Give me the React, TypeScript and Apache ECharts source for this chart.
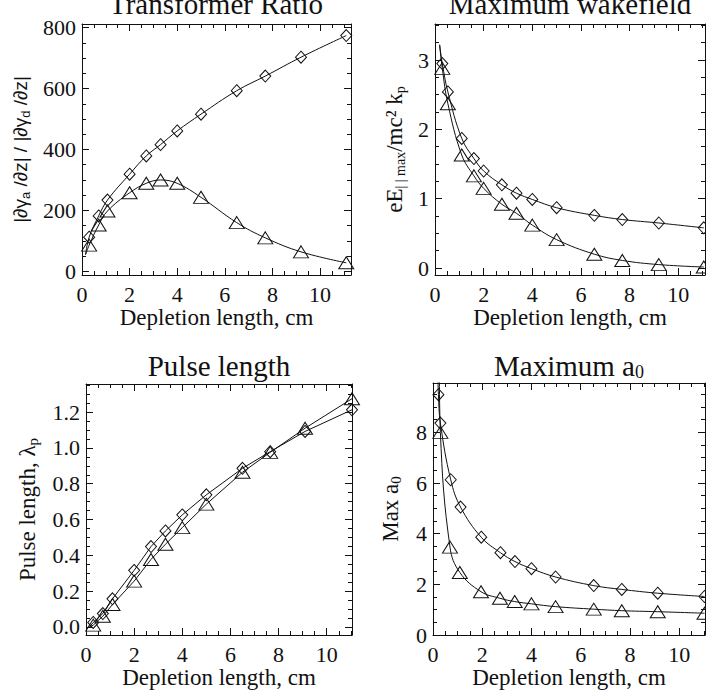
import { useEffect, useRef } from "react";
import * as echarts from "echarts";

// ---------- Panel 1: Transformer Ratio ----------
const trX = [0.3, 0.7, 1.07, 2.0, 2.7, 3.3, 4.0, 5.0, 6.5, 7.7, 9.2, 11.1];
const trDiamond = [112, 182, 234, 319, 379, 416, 461, 516, 593, 641, 703, 774];
const trTriangle = [86, 152, 198, 258, 289, 300, 289, 243, 160, 110, 64, 28];
const trStart = [0.15, 55];
const trYTicks = [0, 200, 400, 600, 800];

// ---------- Panel 2: Maximum wakefield ----------
const wfX = [0.3, 0.53, 1.1, 1.6, 2.0, 2.75, 3.35, 4.0, 5.0, 6.55, 7.7, 9.2, 11.05];
const wfDiamond = [2.95, 2.54, 1.87, 1.58, 1.4, 1.2, 1.08, 0.99, 0.87, 0.76, 0.7, 0.65, 0.58];
const wfTriangle = [2.88, 2.37, 1.63, 1.33, 1.15, 0.92, 0.79, 0.62, 0.41, 0.2, 0.11, 0.05, 0.015];
const wfStart = [0.19, 3.22];
const wfYTicks = [0, 1, 2, 3];

// ---------- Panel 3: Pulse length ----------
const plX = [0.3, 0.7, 1.1, 2.0, 2.7, 3.3, 4.0, 5.0, 6.5, 7.65, 9.1, 11.05];
const plDiamond = [0.025, 0.075, 0.157, 0.316, 0.449, 0.536, 0.626, 0.738, 0.886, 0.979, 1.092, 1.213];
const plTriangle = [0.01, 0.06, 0.125, 0.256, 0.377, 0.462, 0.555, 0.686, 0.864, 0.975, 1.11, 1.275];
const plStart = [0.15, 0.0];
const plYTicks = [0, 0.2, 0.4, 0.6, 0.8, 1.0, 1.2];

// ---------- Panel 4: Maximum a0 ----------
const a0XDiamond = [0.22, 0.3, 0.72, 1.12, 1.96, 2.74, 3.33, 4.0, 4.98, 6.53, 7.67, 9.13, 11.03];
const a0Diamond = [9.49, 8.37, 6.13, 5.05, 3.86, 3.25, 2.9, 2.62, 2.29, 1.95, 1.8, 1.65, 1.52];
const a0XTriangle = [0.3, 0.69, 1.09, 1.95, 2.72, 3.32, 4.0, 4.98, 6.53, 7.67, 9.13, 11.03];
const a0Triangle = [8.0, 3.47, 2.47, 1.71, 1.45, 1.32, 1.23, 1.12, 1.02, 0.96, 0.92, 0.86];
const a0StartDiamond = [0.2, 10.3];
const a0StartTriangle = [0.26, 10.3];
const a0YTicks = [0, 2, 4, 6, 8];

const xTicks = [0, 2, 4, 6, 8, 10];

const SERIF = "'Liberation Serif', 'Times New Roman', serif";
const SANS = "'Liberation Sans', Arial, sans-serif";
const INK = "#111";

function steps(lo: number, hi: number, step: number): number[] {
  const out: number[] = [];
  const start = Math.ceil(lo / step - 1e-9) * step;
  for (let v = start; v <= hi + 1e-9; v += step) out.push(+v.toFixed(6));
  return out;
}
function minorsOf(lo: number, hi: number, step: number, majors: number[]): number[] {
  return steps(lo, hi, step).filter((v) => !majors.some((m) => Math.abs(m - v) < 1e-6));
}

function pairs(xs: number[], ys: number[], start: number[]) {
  return [{ value: start, symbol: "none" }, ...xs.map((x, i) => [x, ys[i]])];
}

function xAxes(grid: number, max: number) {
  const minor = minorsOf(0, max, 0.5, xTicks);
  const base = {
    type: "value",
    gridIndex: grid,
    min: 0,
    max,
    splitLine: { show: false },
    axisLine: { show: true, onZero: false, lineStyle: { color: INK, width: 1 } },
  };
  return [
    {
      ...base,
      position: "bottom",
      axisTick: { show: true, inside: true, length: 7, customValues: xTicks, lineStyle: { color: INK } },
      axisLabel: { customValues: xTicks, fontFamily: SERIF, fontSize: 22, color: INK, margin: 8 },
      name: "Depletion length, cm",
      nameLocation: "middle",
      nameGap: 30,
      nameTextStyle: { fontFamily: SERIF, fontSize: 23, color: INK },
    },
    {
      ...base,
      position: "bottom",
      axisLine: { show: false, onZero: false },
      axisTick: { show: true, inside: true, length: 4, customValues: minor, lineStyle: { color: INK } },
      axisLabel: { show: false },
    },
    {
      ...base,
      position: "top",
      axisTick: { show: true, inside: true, length: 7, customValues: xTicks, lineStyle: { color: INK } },
      axisLabel: { show: false },
    },
    {
      ...base,
      position: "top",
      axisLine: { show: false, onZero: false },
      axisTick: { show: true, inside: true, length: 4, customValues: minor, lineStyle: { color: INK } },
      axisLabel: { show: false },
    },
  ];
}

function yAxes(
  grid: number,
  min: number,
  max: number,
  majors: number[],
  minorStep: number,
  fmt: (v: number) => string,
  name: string,
  nameGap: number,
  nameStyle: any
) {
  const minor = minorsOf(min, max, minorStep, majors);
  const base = {
    type: "value",
    gridIndex: grid,
    min,
    max,
    splitLine: { show: false },
    axisLine: { show: true, onZero: false, lineStyle: { color: INK, width: 1 } },
  };
  return [
    {
      ...base,
      position: "left",
      axisTick: { show: true, inside: true, length: 7, customValues: majors, lineStyle: { color: INK } },
      axisLabel: { customValues: majors, fontFamily: SERIF, fontSize: 22, color: INK, margin: 6, formatter: fmt },
      name,
      nameLocation: "middle",
      nameRotate: 90,
      nameGap,
      nameTextStyle: nameStyle,
    },
    {
      ...base,
      position: "left",
      axisLine: { show: false, onZero: false },
      axisTick: { show: true, inside: true, length: 4, customValues: minor, lineStyle: { color: INK } },
      axisLabel: { show: false },
    },
    {
      ...base,
      position: "right",
      axisTick: { show: true, inside: true, length: 7, customValues: majors, lineStyle: { color: INK } },
      axisLabel: { show: false },
    },
    {
      ...base,
      position: "right",
      axisLine: { show: false, onZero: false },
      axisTick: { show: true, inside: true, length: 4, customValues: minor, lineStyle: { color: INK } },
      axisLabel: { show: false },
    },
  ];
}

function line(panel: number, data: any[], symbol: string, size: number[], smooth: number | boolean) {
  return {
    type: "line",
    xAxisIndex: panel * 4,
    yAxisIndex: panel * 4,
    data,
    symbol,
    symbolSize: size,
    showSymbol: true,
    smooth,
    clip: true,
    silent: true,
    lineStyle: { color: INK, width: 1 },
    itemStyle: { color: "rgba(0,0,0,0)", borderColor: INK, borderWidth: 1 },
    emphasis: { disabled: true },
  };
}

const subRich = (size: number, family: string) => ({
  s: { fontSize: size, fontFamily: family, color: INK, verticalAlign: "bottom", lineHeight: 10 },
});

export default function App() {
  const ref = useRef<HTMLDivElement>(null);
  useEffect(() => {
    if (!ref.current) return;
    const chart = echarts.init(ref.current, undefined, { renderer: "svg" });
    const option: any = {
      animation: false,
      backgroundColor: "#fff",
      grid: [
        { left: 82, top: 24, width: 269, height: 251 },
        { left: 435, top: 24, width: 270, height: 251 },
        { left: 86, top: 384, width: 266, height: 251 },
        { left: 433, top: 383, width: 272, height: 252 },
      ],
      xAxis: [...xAxes(0, 11.3), ...xAxes(1, 11.1), ...xAxes(2, 11.05), ...xAxes(3, 11.05)],
      yAxis: [
        ...yAxes(0, -12, 812, trYTicks, 50, (v) => String(Math.round(v)),
          "|∂γ{s|a} /∂z| / |∂γ{s|d} /∂z|", 50,
          { fontFamily: SANS, fontSize: 19, color: INK, lineHeight: 24, rich: subRich(13, SANS) }),
        ...yAxes(1, -0.1, 3.52, wfYTicks, 0.25, (v) => String(Math.round(v)),
          "eE{s|| | max}/mc² k{s|p}", 28,
          { fontFamily: SERIF, fontSize: 23, color: INK, lineHeight: 26, rich: subRich(14, SERIF) }),
        ...yAxes(2, -0.045, 1.357, plYTicks, 0.05, (v) => v.toFixed(1),
          "Pulse length, λ{s|p}", 46,
          { fontFamily: SERIF, fontSize: 23, color: INK, lineHeight: 26, rich: subRich(15, SERIF) }),
        ...yAxes(3, 0, 9.95, a0YTicks, 0.5, (v) => String(Math.round(v)),
          "Max a{s|0}", 30,
          { fontFamily: SERIF, fontSize: 23, color: INK, lineHeight: 26, rich: subRich(15, SERIF) }),
      ],
      series: [
        line(0, pairs(trX, trDiamond, trStart), "diamond", [11, 12], 0.4),
        line(0, pairs(trX, trTriangle, trStart), "triangle", [15, 12], 0.4),
        line(1, pairs(wfX, wfDiamond, wfStart), "diamond", [11, 12], 0.4),
        line(1, pairs(wfX, wfTriangle, wfStart), "triangle", [15, 12], 0.4),
        line(2, pairs(plX, plDiamond, plStart), "diamond", [11, 12], false),
        line(2, pairs(plX, plTriangle, plStart), "triangle", [15, 12], false),
        line(3, pairs(a0XDiamond, a0Diamond, a0StartDiamond), "diamond", [11, 12], 0.4),
        line(3, pairs(a0XTriangle, a0Triangle, a0StartTriangle), "triangle", [15, 12], 0.4),
      ],
      graphic: [
        { type: "text", x: 216, y: 4, silent: true,
          style: { text: "Transformer Ratio", fontSize: 29, fontFamily: SERIF, fill: INK, align: "center", verticalAlign: "middle" } },
        { type: "text", x: 570, y: 4, silent: true,
          style: { text: "Maximum wakefield", fontSize: 29, fontFamily: SERIF, fill: INK, align: "center", verticalAlign: "middle" } },
        { type: "text", x: 219, y: 366, silent: true,
          style: { text: "Pulse length", fontSize: 29, fontFamily: SERIF, fill: INK, align: "center", verticalAlign: "middle" } },
        { type: "text", x: 569, y: 366, silent: true,
          style: { text: "Maximum a{s|0}", fontSize: 29, fontFamily: SERIF, fill: INK, align: "center", verticalAlign: "middle", lineHeight: 30,
            rich: { s: { fontSize: 18, fontFamily: SERIF, fill: INK, verticalAlign: "bottom", lineHeight: 10 } } } },
      ],
    };
    chart.setOption(option);
    return () => chart.dispose();
  }, []);
  return <div ref={ref} style={{ position: "absolute", left: 0, top: 0, width: 706, height: 692, background: "#fff" }} />;
}
